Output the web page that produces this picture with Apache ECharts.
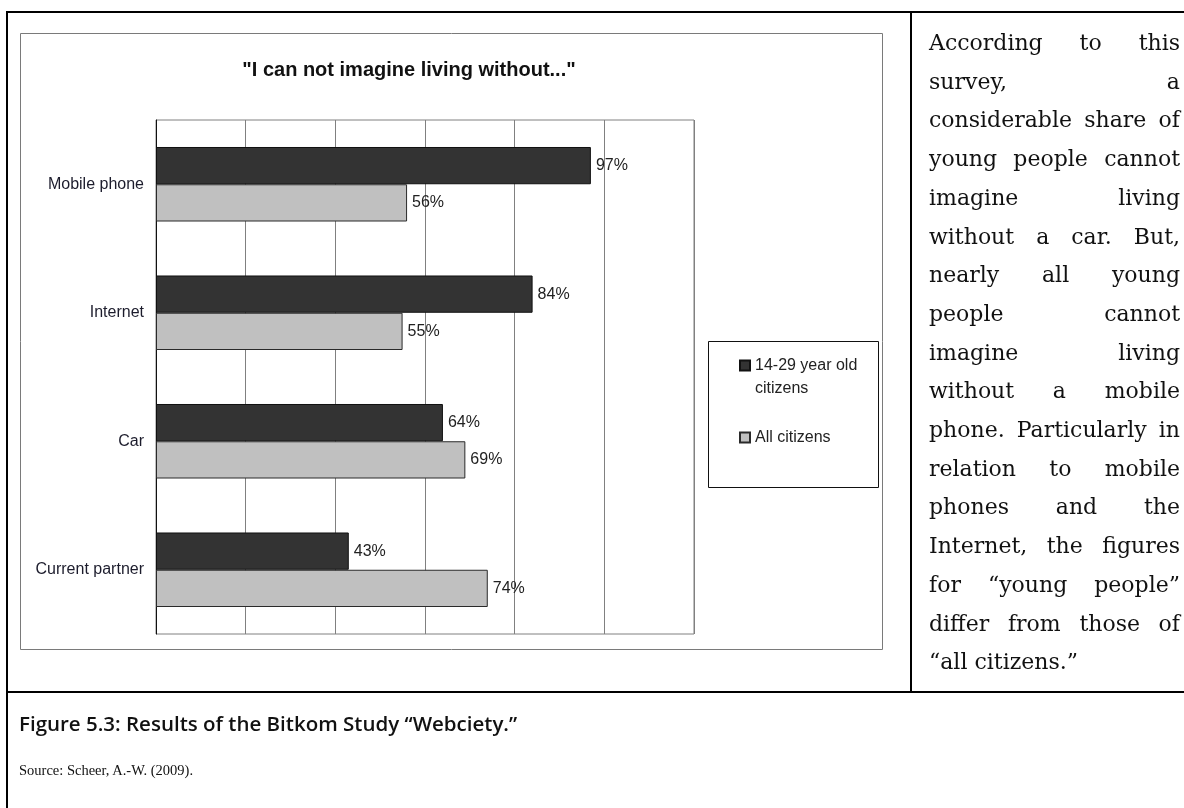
<!DOCTYPE html>
<html>
<head>
<meta charset="utf-8">
<script src="https://cdn.jsdelivr.net/npm/echarts@6/dist/echarts.min.js"></script>
<style>
  html, body { margin: 0; padding: 0; background: #fff; }
  #page { position: relative; width: 1184px; height: 808px; overflow: hidden; }
  #chart { position: absolute; left: 0; top: 0; width: 1184px; height: 808px; }
  .rule { position: absolute; background: #000; }
  #note { position: absolute; left: 929px; top: 24px; width: 251px;
    font-family: 'DejaVu Serif', 'Liberation Serif', serif; font-size: 22px;
    line-height: 38.7px; color: #111; }
  #note div { text-align: justify; text-align-last: justify; white-space: nowrap; }
  #note div.last { text-align: left; text-align-last: left; }
  #caption { position: absolute; left: 19px; top: 709px;
    font-family: 'Open Sans', 'DejaVu Sans', sans-serif; font-weight: 600;
    font-size: 20.5px; color: #111; }
  #source { position: absolute; left: 19px; top: 762px;
    font-family: 'Liberation Serif', serif; font-size: 14.5px; color: #111; }
</style>
</head>
<body>
<div id="page">
  <div id="chart"></div>
  <div class="rule" style="left:6px;top:11px;width:1178px;height:2px"></div>
  <div class="rule" style="left:6px;top:11px;width:2px;height:797px"></div>
  <div class="rule" style="left:910px;top:11px;width:2px;height:682px"></div>
  <div class="rule" style="left:6px;top:691px;width:1178px;height:2px"></div>
  <div id="note"></div>
  <div id="caption"></div>
  <div id="source"></div>
</div>
<script>
// values
const categories = ['Mobile phone', 'Internet', 'Car', 'Current partner']
const youngValues = [97, 84, 64, 43]
const allValues = [56, 55, 69, 74]
const seriesNames = ['14-29 year old\ncitizens', 'All citizens']
const chartTitle = '"I can not imagine living without..."'

const noteLines = [
  'According to this',
  'survey, a',
  'considerable share of',
  'young people cannot',
  'imagine living',
  'without a car. But,',
  'nearly all young',
  'people cannot',
  'imagine living',
  'without a mobile',
  'phone. Particularly in',
  'relation to mobile',
  'phones and the',
  'Internet, the figures',
  'for \u201cyoung people\u201d',
  'differ from those of',
  '\u201call citizens.\u201d'
]
const captionText = 'Figure 5.3: Results of the Bitkom Study \u201cWebciety.\u201d'
const sourceText = 'Source: Scheer, A.-W. (2009).'

const FONT = '"Liberation Sans", Arial, sans-serif'

// side text and caption
const note = document.getElementById('note')
noteLines.forEach((t, i) => {
  const d = document.createElement('div')
  d.textContent = t
  if (i === noteLines.length - 1) d.className = 'last'
  note.appendChild(d)
})
document.getElementById('caption').textContent = captionText
document.getElementById('source').textContent = sourceText

const chart = echarts.init(document.getElementById('chart'))

const barLabel = {
  show: true,
  position: 'right',
  distance: 5,
  formatter: '{c}%',
  color: '#222',
  fontSize: 16,
  fontFamily: FONT
}

chart.setOption({
  animation: false,
  textStyle: { fontFamily: FONT },
  grid: {
    left: 156, top: 120, width: 538, height: 514,
    show: true, borderColor: '#808080', borderWidth: 1
  },
  xAxis: {
    type: 'value', min: 0, max: 120, interval: 20,
    axisLabel: { show: false },
    axisTick: { show: false },
    axisLine: { show: false },
    splitLine: { lineStyle: { color: '#808080', width: 1 } }
  },
  yAxis: {
    type: 'category',
    data: categories,
    inverse: true,
    axisLine: { lineStyle: { color: '#111', width: 1 } },
    axisTick: { length: 4, lineStyle: { color: '#111' } },
    axisLabel: { margin: 12, color: '#1c1c2c', fontSize: 16, fontFamily: FONT }
  },
  legend: {
    orient: 'vertical',
    left: 739, top: 331,
    padding: 0,
    itemWidth: 10, itemHeight: 10, itemGap: 26,
    icon: 'rect',
    textStyle: { fontSize: 16, color: '#222', lineHeight: 23, fontFamily: FONT },
    // empty first line keeps the icon beside the first line of a wrapped name
    formatter: name => (name.indexOf('\n') >= 0 ? '\n' + name : name),
    data: seriesNames
  },
  graphic: [
    {
      type: 'rect', z: -10, silent: true,
      shape: { x: 20.5, y: 33.5, width: 862, height: 616 },
      style: { fill: 'none', stroke: '#7a7a7a', lineWidth: 1 }
    },
    {
      type: 'rect', silent: true,
      shape: { x: 708.5, y: 341.5, width: 170, height: 146 },
      style: { fill: 'none', stroke: '#111', lineWidth: 1 }
    },
    {
      type: 'text', x: 409, y: 70, silent: true,
      style: {
        text: chartTitle,
        font: 'bold 20px ' + FONT,
        fill: '#111',
        align: 'center', verticalAlign: 'middle',
        textAlign: 'center', textVerticalAlign: 'middle'
      }
    }
  ],
  series: [
    {
      name: seriesNames[0],
      type: 'bar',
      data: youngValues,
      barGap: '0%',
      barCategoryGap: '42%',
      itemStyle: { color: '#333333', borderColor: '#111', borderWidth: 1 },
      label: barLabel
    },
    {
      name: seriesNames[1],
      type: 'bar',
      data: allValues,
      barGap: '0%',
      barCategoryGap: '42%',
      itemStyle: { color: '#c0c0c0', borderColor: '#2a2a2a', borderWidth: 1 },
      label: barLabel
    }
  ]
})
</script>
</body>
</html>
